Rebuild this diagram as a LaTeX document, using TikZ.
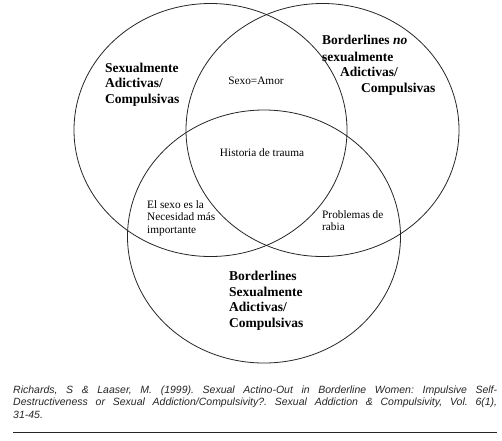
\documentclass[tikz,border=0pt]{standalone}
\usepackage{fontspec}
\setmainfont{Liberation Serif}
\newfontfamily\citefont{Liberation Sans}
\usetikzlibrary{shapes.geometric}
\frenchspacing
\begin{document}
\begin{tikzpicture}[x=1pt,y=-1pt,
  venn/.style={ellipse, draw=black!85, line width=0.8pt, inner sep=0pt,
    minimum width=273pt, minimum height=253pt},
  biglabel/.style={font=\fontsize{13.5}{15.7}\selectfont\bfseries, inner sep=0pt,
    anchor=base west, align=left},
  smalllabel/.style={font=\fontsize{11.3}{12.6}\selectfont, inner sep=0pt, align=left},
  citeline/.style={font=\citefont\itshape\fontsize{10.5}{12.5}\selectfont\frenchspacing, inner sep=0pt,
    anchor=base west, text=black!85},
]
\useasboundingbox (0,0) rectangle (502,440);
\fill[white] (0,0) rectangle (502,440);
\node[venn] (left) at (210.5,130) {};
\node[venn] (right) at (322.5,130) {};
\node[venn] (bottom) at (264,236.5) {};

% multi-line nodes: base anchor is the baseline of the last line
\node[biglabel] (lab1) at (105,103.4) {Sexualmente\\Adictivas/\\Compulsivas};
\node[biglabel] (lab2a) at (322,44.5) {Borderlines \textit{no}};
\node[biglabel] (lab2b) at (322,61) {sexualmente};
\node[biglabel] (lab2c) at (340,76.5) {Adictivas/};
\node[biglabel] (lab2d) at (361,92.5) {Compulsivas};
\node[biglabel] (lab3) at (229,327.6) {Borderlines\\Sexualmente\\Adictivas/\\Compulsivas};

\node[smalllabel] (sexo) at (256,81) {Sexo=Amor};
\node[smalllabel] (trauma) at (262,153) {Historia de trauma};
\node[smalllabel, anchor=base west] (necesidad) at (147,233.2) {El sexo es la\\Necesidad más\\importante};
\node[smalllabel, anchor=base west] (rabia) at (322,230.6) {Problemas de\\rabia};

\node[citeline] (c1) at (13,393) {\makebox[484pt][s]{Richards, S \& Laaser, M. (1999). Sexual Actino-Out in Borderline Women: Impulsive Self-}};
\node[citeline] (c2) at (13,405.5) {\makebox[484pt][s]{Destructiveness or Sexual Addiction/Compulsivity?. Sexual Addiction \& Compulsivity, Vol. 6(1),}};
\node[citeline] (c3) at (13,418) {31-45.};
\coordinate (ruleL) at (13,432);
\coordinate (ruleR) at (497,432);
\draw[black!85, line width=0.8pt] (ruleL) -- (ruleR);
\end{tikzpicture}
\end{document}
